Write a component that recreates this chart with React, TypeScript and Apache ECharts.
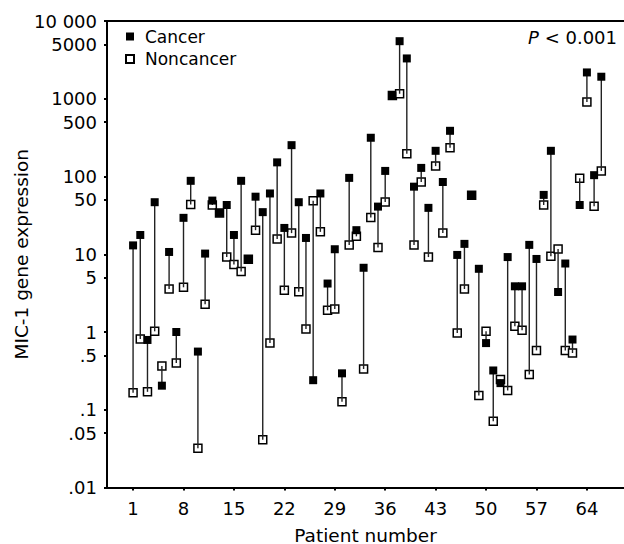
import React, { useEffect, useRef } from "react";
import * as echarts from "echarts";

const patients = [
  1, 2, 3, 4, 5, 6, 7, 8, 9, 10, 11, 12, 13, 14, 15, 16, 17, 18, 19, 20, 21, 22,
  23, 24, 25, 26, 27, 28, 29, 30, 31, 32, 33, 34, 35, 36, 37, 38, 39, 40, 41, 42,
  43, 44, 45, 46, 47, 48, 49, 50, 51, 52, 53, 54, 55, 56, 57, 58, 59, 60, 61, 62,
  63, 64, 65, 66,
];

const cancer = [
  13, 17.7, 0.79, 46.7, 0.204, 10.7, 1.0, 29.4, 88, 0.56, 10.2, 49, 34, 43, 17.7,
  88, 8.6, 55, 34.8, 60.5, 152, 21.8, 253, 46.7, 16.2, 0.24, 60.5, 4.2, 11.6,
  0.294, 96, 20.4, 6.7, 315, 41, 118, 1100, 5500, 3300, 74, 129, 39.5, 214, 85,
  387, 9.8, 13.6, 57.5, 6.5, 0.72, 0.32, 0.22, 9.2, 3.87, 3.87, 13.2, 8.7, 58,
  214, 3.27, 7.6, 0.8, 43, 2180, 104, 1920,
];

const noncancer = [
  0.166, 0.81, 0.17, 1.02, 0.365, 3.57, 0.4, 3.76, 43.6, 0.032, 2.27, 43, 34, 9.2,
  7.4, 6.0, 8.6, 20.4, 0.041, 0.72, 15.7, 3.44, 18.7, 3.3, 1.09, 48.6, 19.4, 1.9,
  1.98, 0.127, 13.2, 17, 0.334, 29.7, 12.2, 47, 1100, 1160, 196, 13.2, 85, 9.2,
  136, 18.7, 234, 0.97, 3.57, 57.5, 0.152, 1.02, 0.071, 0.245, 0.177, 1.19, 1.05,
  0.285, 0.58, 43, 9.4, 11.7, 0.58, 0.537, 95, 906, 41.5, 118,
];

const xTickValues = [1, 8, 15, 22, 29, 36, 43, 50, 57, 64];
const yTickValues = [0.01, 0.05, 0.1, 0.5, 1, 5, 10, 50, 100, 500, 1000, 5000, 10000];
const yTickLabels = [".01", ".05", ".1", ".5", "1", "5", "10", "50", "100", "500", "1000", "5000", "10 000"];

const FONT = "DejaVu Sans";

export default function App() {
  const ref = useRef<HTMLDivElement>(null);

  useEffect(() => {
    if (!ref.current) return;
    const chart = echarts.init(ref.current, undefined, { renderer: "svg" });

    const yFormatter = (v: number) => {
      let best = 0;
      let bestD = Infinity;
      yTickValues.forEach((t, i) => {
        const d = Math.abs(Math.log10(t) - Math.log10(v));
        if (d < bestD) {
          bestD = d;
          best = i;
        }
      });
      return yTickLabels[best];
    };

    const axisLineStyle = { color: "#000", width: 2 };

    chart.setOption({
      animation: false,
      backgroundColor: "#fff",
      title: {
        text: "{i|P} < 0.001",
        right: 7,
        top: 28,
        padding: 0,
        textStyle: {
          fontFamily: FONT,
          fontSize: 18,
          fontWeight: "normal",
          color: "#000",
          rich: {
            i: { fontFamily: FONT, fontSize: 18, fontStyle: "italic", color: "#000" },
          },
        },
      },
      legend: {
        data: ["Cancer", "Noncancer"],
        orient: "vertical",
        left: 125,
        top: 28,
        padding: 0,
        itemWidth: 8,
        itemHeight: 8,
        itemGap: 5.5,
        textStyle: { fontFamily: FONT, fontSize: 17, color: "#000", padding: [0, 0, 0, 6] },
      },
      grid: {
        left: 107,
        right: 0,
        top: 21,
        bottom: 56.5,
        containLabel: false,
        outerBoundsMode: "none",
      },
      xAxis: [
        {
          type: "value",
          min: -2.62,
          max: 69.15,
          name: "Patient number",
          nameLocation: "middle",
          nameGap: 38,
          nameMoveOverlap: false,
          nameTextStyle: { fontFamily: FONT, fontSize: 18.5, color: "#000" },
          axisLine: { show: true, onZero: false, lineStyle: axisLineStyle },
          axisTick: {
            show: true,
            length: 3,
            lineStyle: { color: "#000", width: 2 },
            customValues: xTickValues,
          },
          axisLabel: {
            fontFamily: FONT,
            fontSize: 18,
            color: "#000",
            margin: 12,
            customValues: xTickValues,
          },
          splitLine: { show: false },
        },
        {
          type: "value",
          position: "top",
          min: -2.62,
          max: 69.15,
          axisLine: { show: true, onZero: false, lineStyle: axisLineStyle },
          axisTick: { show: false },
          axisLabel: { show: false },
          splitLine: { show: false },
        },
      ],
      yAxis: {
        type: "log",
        logBase: 10,
        min: 0.01,
        max: 10000,
        name: "MIC-1 gene expression",
        nameLocation: "middle",
        nameGap: 76,
        nameMoveOverlap: false,
        nameTextStyle: { fontFamily: FONT, fontSize: 18.5, color: "#000" },
        axisLine: { show: true, onZero: false, lineStyle: axisLineStyle },
        axisTick: {
          show: true,
          length: 3,
          lineStyle: { color: "#000", width: 2 },
          customValues: yTickValues,
        },
        axisLabel: {
          fontFamily: FONT,
          fontSize: 18,
          color: "#000",
          margin: 10,
          customValues: yTickValues,
          formatter: yFormatter,
        },
        splitLine: { show: false },
        minorTick: { show: false },
      },
      series: [
        {
          name: "Noncancer",
          type: "scatter",
          symbol: "rect",
          symbolSize: 8,
          z: 2,
          itemStyle: { color: "#fff", borderColor: "#000", borderWidth: 1.5, opacity: 1 },
          data: patients.map((p, i) => [p, noncancer[i]]),
        },
        {
          name: "Links",
          type: "custom",
          z: 3,
          silent: true,
          encode: { x: 0, y: [1, 2] },
          data: patients.map((p, i) => [p, cancer[i], noncancer[i]]),
          renderItem: (params: any, api: any) => {
            const x = api.value(0);
            const a = api.coord([x, api.value(1)]);
            const b = api.coord([x, api.value(2)]);
            return {
              type: "line",
              shape: { x1: a[0], y1: a[1], x2: b[0], y2: b[1] },
              style: { stroke: "#222", lineWidth: 1.4 },
            };
          },
        },
        {
          name: "Cancer",
          type: "scatter",
          symbol: "rect",
          symbolSize: 8,
          z: 4,
          itemStyle: { color: "#000", opacity: 1 },
          data: patients.map((p, i) => [p, cancer[i]]),
        },
      ],
    });

    return () => chart.dispose();
  }, []);

  return (
    <div
      ref={ref}
      style={{ position: "fixed", left: 0, top: 0, width: 624, height: 544, background: "#fff" }}
    />
  );
}
